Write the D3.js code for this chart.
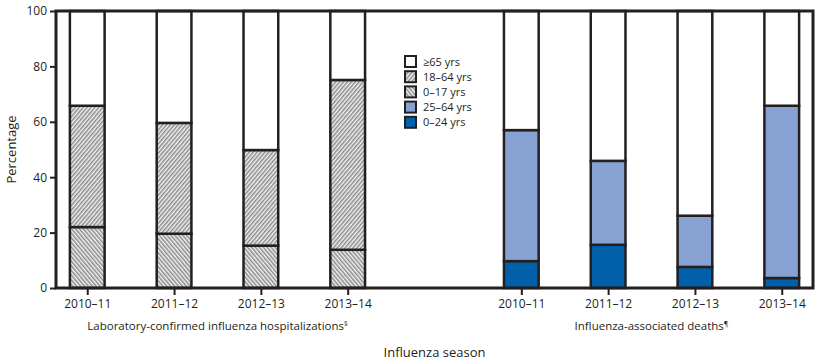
<!DOCTYPE html>
<html>
<head>
<meta charset="utf-8">
<script src="https://cdn.jsdelivr.net/npm/d3@7"></script>
<style>
  body { margin: 0; background: white; }
  text { font-family: "Open Sans", "Liberation Sans", sans-serif; fill: #231f20; }
</style>
</head>
<body>
<div class="chart"></div>
<script>
    var seasons = ["2010–11", "2011–12", "2012–13", "2013–14"];
    var yTicks = [0, 20, 40, 60, 80, 100];

    // hospitalizations by age group (percent)
    var hosp0to17 = [22.0, 19.6, 15.3, 13.8];
    var hosp18to64 = [43.8, 40.0, 34.5, 61.3];
    var hosp65plus = [34.2, 40.4, 50.2, 24.9];

    // deaths by age group (percent)
    var death0to24 = [9.7, 15.6, 7.6, 3.6];
    var death25to64 = [47.3, 30.3, 18.5, 62.2];
    var death65plus = [43.0, 54.1, 73.9, 34.2];

    var groupLabels = ["Laboratory-confirmed influenza hospitalizations", "Influenza-associated deaths"];
    var groupMarks = ["§", "¶"];
    var legendLabels = ["≥65 yrs", "18–64 yrs", "0–17 yrs", "25–64 yrs", "0–24 yrs"];

    var ink = "#231f20";
    var plotL = 56, plotR = 813, plotT = 11, plotB = 288;

    var svg = d3.select(".chart")
                .append("svg")
                .attr("width", 819)
                .attr("height", 364);

    var defs = svg.append("defs");
    function hatch(id, angle) {
      var p = defs.append("pattern")
                  .attr("id", id)
                  .attr("patternUnits", "userSpaceOnUse")
                  .attr("width", 3)
                  .attr("height", 3)
                  .attr("patternTransform", "rotate(" + angle + ")");
      p.append("rect").attr("width", 3).attr("height", 3).attr("fill", "#f2f2f2");
      p.append("rect").attr("width", 1.5).attr("height", 3).attr("fill", "#8a8a8a");
    }
    hatch("hatchUp", 40);
    hatch("hatchDown", -40);

    var fills = {
      "65": "white",
      "18-64": "url(#hatchUp)",
      "0-17": "url(#hatchDown)",
      "25-64": "#86a1d2",
      "0-24": "#0061aa"
    };

    // one slot per bar, with an empty slot between the two groups
    var slots = seasons.map(function(s) { return "h" + s; })
                  .concat(["gap"])
                  .concat(seasons.map(function(s) { return "d" + s; }));

    var x = d3.scalePoint()
              .domain(slots)
              .range([plotL, plotR])
              .padding(0.36);
    var barW = x.step() * 0.4;

    var y = d3.scaleLinear()
              .domain([0, 100])
              .range([plotB, plotT]);

    var rows = seasons.map(function(s, i) {
      return {slot: "h" + s, a: hosp0to17[i], b: hosp18to64[i], c: hosp65plus[i]};
    });
    var rowsD = seasons.map(function(s, i) {
      return {slot: "d" + s, a: death0to24[i], b: death25to64[i], c: death65plus[i]};
    });

    var stack = d3.stack().keys(["a", "b", "c"]);

    function drawBars(data, fillKeys) {
      var layers = stack(data);
      layers.forEach(function(layer, li) {
        svg.append("g")
           .selectAll("rect")
           .data(layer)
           .join("rect")
           .attr("x", function(d) { return x(d.data.slot) - barW / 2; })
           .attr("y", function(d) { return y(d[1]); })
           .attr("width", barW)
           .attr("height", function(d) { return y(d[0]) - y(d[1]); })
           .attr("fill", fills[fillKeys[li]])
           .attr("stroke", ink)
           .attr("stroke-width", 2.5);
      });
    }
    drawBars(rows, ["0-17", "18-64", "65"]);
    drawBars(rowsD, ["0-24", "25-64", "65"]);

    // y axis
    var yAxis = svg.append("g")
                   .attr("transform", "translate(" + plotL + ",0)")
                   .call(d3.axisLeft(y).tickValues(yTicks).tickSize(6).tickPadding(3));
    yAxis.select(".domain").remove();
    yAxis.selectAll("line").attr("stroke", ink).attr("stroke-width", 2);
    yAxis.selectAll("text").style("font-size", "12px").attr("font-family", null);

    // x axis
    var xAxis = svg.append("g")
                   .attr("transform", "translate(0," + plotB + ")")
                   .call(d3.axisBottom(x).tickValues(slots.filter(function(s) { return s != "gap"; }))
                           .tickFormat(function(s) { return s.slice(1); })
                           .tickSize(7).tickPadding(4));
    xAxis.select(".domain").remove();
    xAxis.selectAll("line").attr("stroke", ink).attr("stroke-width", 2);
    xAxis.selectAll("text").style("font-size", "12px").attr("font-family", null);

    // frame
    svg.append("rect")
       .attr("x", plotL)
       .attr("y", plotT)
       .attr("width", plotR - plotL)
       .attr("height", plotB - plotT)
       .attr("fill", "none")
       .attr("stroke", ink)
       .attr("stroke-width", 3);

    // group labels
    var groups = [seasons.map(function(s) { return "h" + s; }), seasons.map(function(s) { return "d" + s; })];
    groups.forEach(function(g, i) {
      var t = svg.append("text")
         .attr("text-anchor", "middle")
         .attr("x", (x(g[0]) + x(g[3])) / 2)
         .attr("y", 330)
         .style("font-size", "11.5px")
         .text(groupLabels[i]);
      t.append("tspan")
       .attr("dy", -4)
       .style("font-size", "7px")
       .text(groupMarks[i]);
    });

    svg.append("text")
       .attr("text-anchor", "middle")
       .attr("x", (plotL + plotR) / 2)
       .attr("y", 357)
       .style("font-size", "13px")
       .text("Influenza season");

    svg.append("text")
       .attr("text-anchor", "middle")
       .attr("transform", "translate(16," + ((plotT + plotB) / 2) + ") rotate(-90)")
       .style("font-size", "13px")
       .text("Percentage");

    // legend
    var legendFills = [fills["65"], fills["18-64"], fills["0-17"], fills["25-64"], fills["0-24"]];
    var legend = svg.append("g").attr("transform", "translate(405,56)");
    legendLabels.forEach(function(l, i) {
      legend.append("rect")
            .attr("x", 0)
            .attr("y", i * 15.2)
            .attr("width", 11)
            .attr("height", 11)
            .attr("fill", legendFills[i])
            .attr("stroke", ink)
            .attr("stroke-width", 2);
      legend.append("text")
            .attr("x", 18)
            .attr("y", i * 15.2 + 9.5)
            .style("font-size", "11px")
            .text(l);
    });
</script>
</body>
</html>
